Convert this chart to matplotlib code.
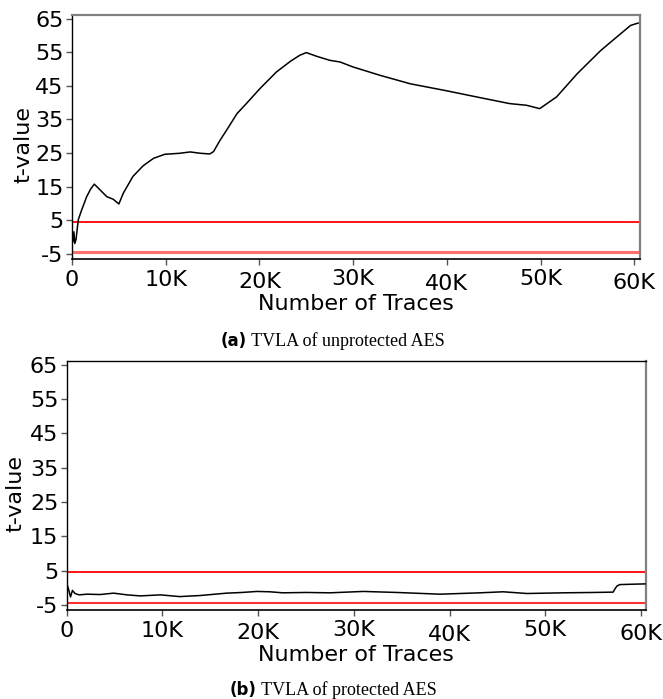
import matplotlib
matplotlib.use("Agg")
import matplotlib.pyplot as plt
import matplotlib.transforms as mtransforms

# --- TVLA t-value traces (x in thousands of traces) ---
unprot_x = [0.0, 0.1, 0.2, 0.3, 0.43, 0.67, 1.03, 1.57, 2.0, 2.38, 2.99, 3.7, 4.4, 5.0,
            5.47, 6.5, 7.6, 8.7, 9.9, 11.5, 12.6, 13.7, 14.7, 15.1, 15.8, 16.5, 17.6,
            18.6, 20.06, 21.8, 23.3, 24.3, 25.0, 26.1, 27.5, 28.6, 30.0, 32.9, 36.1,
            40.0, 43.5, 46.7, 48.5, 49.9, 51.7, 53.9, 56.4, 58.1, 59.6, 60.4]
unprot_y = [2.0, -1.5, 1.5, -2.0, -0.8, 5.1, 8.0, 12.0, 14.3, 15.7, 14.0, 12.0, 11.2, 9.8,
            13.0, 18.0, 21.2, 23.4, 24.6, 24.9, 25.3, 24.9, 24.7, 25.4, 28.8, 31.8, 36.7,
            39.7, 44.2, 49.1, 52.3, 54.1, 54.9, 53.8, 52.6, 52.1, 50.6, 48.1, 45.6,
            43.5, 41.5, 39.7, 39.2, 38.2, 41.7, 48.6, 55.5, 59.5, 63.0, 63.7]

prot_x = [0.0, 0.2, 0.4, 0.6, 0.87, 1.3, 2.1, 3.5, 4.9, 6.3, 7.7, 9.8, 11.8, 13.9,
          16.7, 18.3, 19.9, 21.2, 22.6, 25.0, 27.5, 31.0, 34.5, 39.0, 43.2, 45.6,
          48.1, 51.9, 55.0, 57.1, 57.3, 57.5, 57.8, 59.0, 60.45]
prot_y = [1.2, -0.5, -2.7, -0.8, -1.7, -2.1, -1.9, -2.0, -1.6, -2.1, -2.4, -2.1, -2.6, -2.3,
          -1.6, -1.4, -1.1, -1.2, -1.5, -1.4, -1.5, -1.1, -1.4, -1.9, -1.5, -1.2,
          -1.7, -1.5, -1.4, -1.3, -0.3, 0.5, 0.9, 1.0, 1.1]

threshold = 4.5
y_ticks = [-5, 5, 15, 25, 35, 45, 55, 65]
x_ticks = [0, 10, 20, 30, 40, 50, 60]
x_tick_labels = ["0", "10K", "20K", "30K", "40K", "50K", "60K"]
captions = [("(a)", " TVLA of unprotected AES"), ("(b)", " TVLA of protected AES")]

FS = 16
fig = plt.figure(figsize=(6.63, 6.99), dpi=100)

ax_a = fig.add_axes([72 / 663, 1 - 259 / 699, 568 / 663, 244 / 699])
ax_b = fig.add_axes([66.7 / 663, 1 - 610.3 / 699, 579 / 663, 249.3 / 699])

label_shift_px = [0, 0, -2, 1, -4, 1, -3]


def style_axes(ax, xs, ys, xmax, lower_color, lower_lw, top_color, label_x):
    ax.plot(xs, ys, color="black", lw=1.1, zorder=3)
    ax.axhline(threshold, color="#ff0000", lw=1.3, zorder=2)
    ax.axhline(-threshold, color=lower_color, lw=lower_lw, zorder=2)
    ax.set_xlim(0, xmax)
    ax.set_ylim(-6.6, 66.1)
    ax.set_yticks(y_ticks)
    ax.set_yticklabels([str(v) for v in y_ticks])
    ax.set_xticks(x_ticks)
    ax.set_xticklabels(x_tick_labels)
    ax.tick_params(axis="both", labelsize=FS, length=4, width=1, color="#555555",
                   labelcolor="black")
    ax.tick_params(axis="y", pad=2)
    ax.tick_params(axis="x", pad=4)
    for lab, dy in zip(ax.get_xticklabels(), label_shift_px):
        lab.set_transform(lab.get_transform() +
                          mtransforms.ScaledTranslation(0, dy / 100, fig.dpi_scale_trans))
    ax.spines["left"].set_color("black")
    ax.spines["bottom"].set_color("black")
    ax.spines["left"].set_linewidth(1.0)
    ax.spines["bottom"].set_linewidth(1.2)
    ax.spines["right"].set_color("#808080")
    ax.spines["right"].set_linewidth(1.6)
    ax.spines["top"].set_color(top_color)
    ax.spines["top"].set_linewidth(1.6 if top_color != "black" else 1.0)
    ax.set_xlabel("Number of Traces", fontsize=FS, labelpad=0)
    ax.set_ylabel("t-value", fontsize=FS)
    ax.yaxis.set_label_coords(label_x, 0.47)


style_axes(ax_a, unprot_x, unprot_y, 60.6, "#ff6f6f", 2.2, "#808080", -0.068)
style_axes(ax_b, prot_x, prot_y, 60.5, "#ff3030", 1.5, "black", -0.072)

# Sub-figure captions: bold sans tag followed by serif text
for (tag, text), (x0, yc) in zip(captions, [(221, 341), (230, 690)]):
    t1 = fig.text(x0 / 663, 1 - yc / 699, tag, fontsize=12, fontweight="bold",
                  family="DejaVu Sans", ha="left", va="center")
    ax_a.annotate(text, xy=(1, 0.5), xycoords=t1, va="center", ha="left",
                  fontsize=13, family="Liberation Serif", annotation_clip=False)

fig.savefig("out.png", dpi=100)
